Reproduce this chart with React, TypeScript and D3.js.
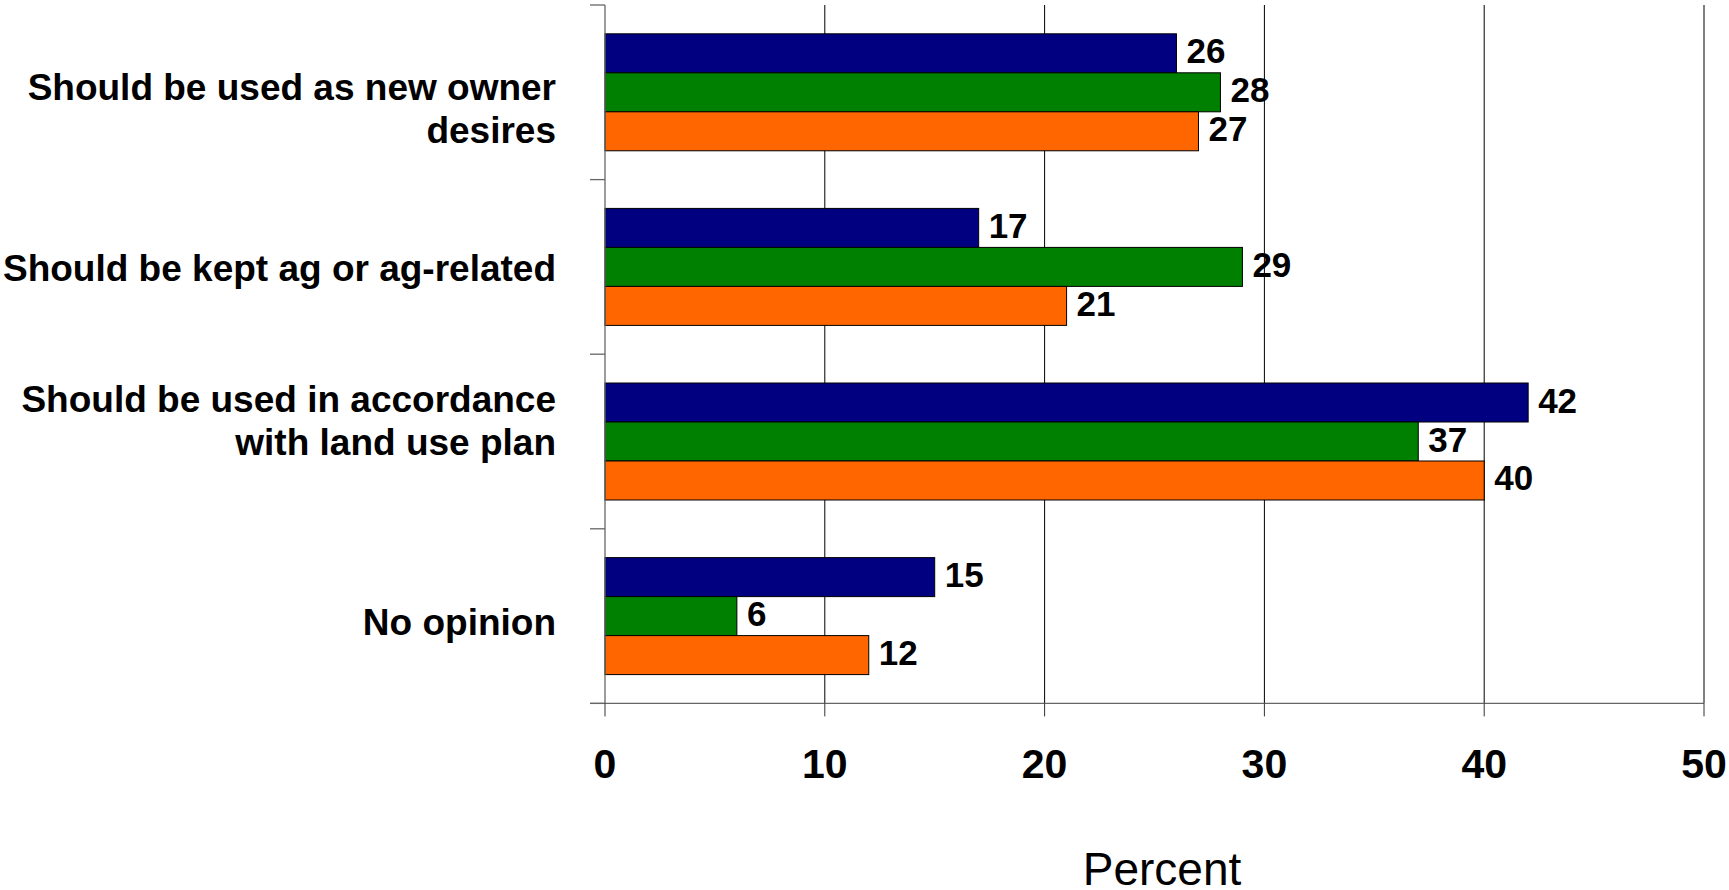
import React from "react";
import * as d3 from "d3";

const categories: string[][] = [
  ["Should be used as new owner", "desires"],
  ["Should be kept ag or ag-related"],
  ["Should be used in accordance", "with land use plan"],
  ["No opinion"],
];
const seriesNames = ["Series 1", "Series 2", "Series 3"];
const series1 = [26, 17, 42, 15];
const series2 = [28, 29, 37, 6];
const series3 = [27, 21, 40, 12];
const xTicks = [0, 10, 20, 30, 40, 50];
const xTitle = "Percent";

const colors = ["#000080", "#008000", "#FF6600"];
// label placement (offset of first baseline from band centre), px
const labelOffsets = [7.7, 14.4, -29.8, 18.9];
const lineHeight = 43;

const W = 1729;
const H = 890;
const left = 605;
const right = 1704;
const top = 5;
const bottom = 703.4;
const font = "'Liberation Sans', Arial, Helvetica, sans-serif";

export default function App() {
  const values = [series1, series2, series3];
  const x = d3.scaleLinear().domain([0, 50]).range([left, right]);
  const y = d3
    .scaleBand<number>()
    .domain(d3.range(categories.length))
    .range([top, bottom])
    .paddingInner(0.33)
    .paddingOuter(0.165);
  const inner = d3
    .scaleBand<number>()
    .domain(d3.range(seriesNames.length))
    .range([0, y.bandwidth()]);
  const step = (bottom - top) / categories.length;
  const boundaries = d3.range(categories.length + 1).map((i) => top + i * step);

  return (
    <svg
      width={W}
      height={H}
      style={{ position: "absolute", left: 0, top: 0, background: "#fff" }}
      fontFamily={font}
    >
      {/* gridlines */}
      {xTicks.slice(1).map((t) => (
        <line key={"g" + t} x1={x(t)} x2={x(t)} y1={top} y2={bottom} stroke="#000" strokeWidth={1} />
      ))}
      {/* bars */}
      {categories.map((_, ci) =>
        values.map((vals, si) => {
          const yy = (y(ci) as number) + (inner(si) as number);
          return (
            <rect
              key={`b${ci}-${si}`}
              x={x(0)}
              y={yy}
              width={x(vals[ci]) - x(0)}
              height={inner.bandwidth()}
              fill={colors[si]}
              stroke="#000"
              strokeWidth={1}
            />
          );
        })
      )}
      {/* value labels */}
      {categories.map((_, ci) =>
        values.map((vals, si) => {
          const yy = (y(ci) as number) + (inner(si) as number) + inner.bandwidth() / 2;
          return (
            <text
              key={`v${ci}-${si}`}
              x={x(vals[ci]) + 10}
              y={yy + 10}
              fontSize={35}
              fontWeight="bold"
              fill="#000"
            >
              {vals[ci]}
            </text>
          );
        })
      )}
      {/* y axis */}
      <line x1={left} x2={left} y1={top} y2={bottom} stroke="#666" strokeWidth={1.3} />
      {boundaries.map((b, i) => (
        <line key={"yt" + i} x1={590} x2={left} y1={b} y2={b} stroke="#666" strokeWidth={1.3} />
      ))}
      {/* x axis */}
      <line x1={590} x2={right} y1={bottom} y2={bottom} stroke="#666" strokeWidth={1.3} />
      {xTicks.map((t) => (
        <line key={"xt" + t} x1={x(t)} x2={x(t)} y1={bottom} y2={bottom + 13} stroke="#333" strokeWidth={1} />
      ))}
      {xTicks.map((t) => (
        <text
          key={"xl" + t}
          x={x(t)}
          y={778}
          textAnchor="middle"
          fontSize={41}
          fontWeight="bold"
          fill="#000"
        >
          {t}
        </text>
      ))}
      {/* category labels */}
      {categories.map((lines, ci) => {
        const c = (y(ci) as number) + y.bandwidth() / 2;
        return (
          <text key={"c" + ci} textAnchor="end" fontSize={37} fontWeight="bold" fill="#000">
            {lines.map((ln, li) => (
              <tspan key={li} x={556} y={c + labelOffsets[ci] + li * lineHeight}>
                {ln}
              </tspan>
            ))}
          </text>
        );
      })}
      <text x={1162} y={885} textAnchor="middle" fontSize={46} fill="#000">
        {xTitle}
      </text>
    </svg>
  );
}
